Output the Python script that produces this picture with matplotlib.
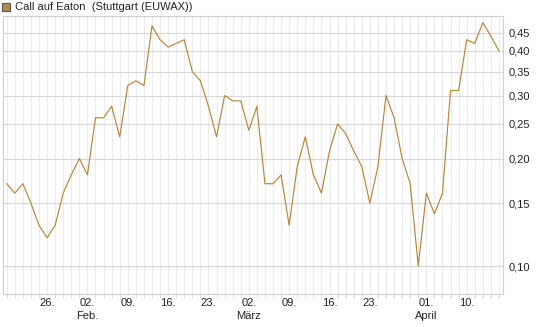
import matplotlib
matplotlib.use("Agg")
import matplotlib.pyplot as plt
from matplotlib.patches import Rectangle
from matplotlib.ticker import FixedLocator, NullLocator, FuncFormatter, MultipleLocator
import pandas as pd

plt.rcParams["font.family"] = ["Liberation Sans", "DejaVu Sans"]
plt.rcParams["font.size"] = 8

# trading days (Stuttgart), Good Friday / Easter Monday closed
dates = pd.bdate_range("2026-01-19", "2026-04-16")
dates = dates.drop(pd.to_datetime(["2026-04-03", "2026-04-06"]))

prices = [0.17, 0.16, 0.17, 0.15, 0.13, 0.12, 0.13, 0.16, 0.18, 0.20,
          0.18, 0.26, 0.26, 0.28, 0.23, 0.32, 0.33, 0.32, 0.47, 0.43,
          0.41, 0.42, 0.43, 0.35, 0.33, 0.28, 0.23, 0.30, 0.29, 0.29,
          0.24, 0.28, 0.17, 0.17, 0.18, 0.13, 0.19, 0.23, 0.18, 0.16,
          0.21, 0.25, 0.235, 0.21, 0.19, 0.15, 0.19, 0.30, 0.26, 0.20,
          0.17, 0.10, 0.16, 0.14, 0.16, 0.31, 0.31, 0.43, 0.42, 0.48,
          0.44, 0.40]

tick_days = ["2026-01-26", "2026-02-02", "2026-02-09", "2026-02-16", "2026-02-23",
             "2026-03-02", "2026-03-09", "2026-03-16", "2026-03-23", "2026-04-01",
             "2026-04-10"]
tick_labels = ["26.", "02.\nFeb.", "09.", "16.", "23.", "02.\nMärz", "09.", "16.",
               "23.", "01.\nApril", "10."]
y_ticks = [0.10, 0.15, 0.20, 0.25, 0.30, 0.35, 0.40, 0.45]

line_col = "#b8863b"
x = list(range(len(dates)))
tick_pos = [dates.get_loc(pd.Timestamp(d)) for d in tick_days]

fig = plt.figure(figsize=(5.45, 3.27), dpi=100)
ax = fig.add_axes([2.7 / 545, 1 - 293.5 / 327, (503 - 2.7) / 545, (293.5 - 16) / 327])

ax.plot(x, prices, color=line_col, lw=0.85, zorder=3)

ax.set_yscale("log")
ax.set_ylim(0.0838, 0.501)
ax.set_xlim(-0.5, len(dates) - 0.5)

ax.yaxis.set_major_locator(FixedLocator(y_ticks))
ax.yaxis.set_minor_locator(NullLocator())
ax.yaxis.set_major_formatter(FuncFormatter(lambda v, p: f"{v:.2f}".replace(".", ",")))
ax.yaxis.tick_right()
ax.tick_params(axis="y", length=0, pad=4, labelcolor="#222222", labelsize=8)

ax.set_xticks(tick_pos)
ax.set_xticklabels(tick_labels, linespacing=1.45)
ax.xaxis.set_minor_locator(MultipleLocator(1))
ax.tick_params(axis="x", which="major", length=0, pad=3, labelcolor="#222222", labelsize=8)
ax.tick_params(axis="x", which="minor", length=3, color="#dddddd", width=0.8)

# grid: every trading day vertical, price levels horizontal
for k in x:
    ax.axvline(k, color="#ececec", lw=0.8, zorder=1)
for v in y_ticks:
    ax.axhline(v, color="#d9d9d9", lw=0.9, zorder=2)

for s in ax.spines.values():
    s.set_color("#cfcfcf")
    s.set_linewidth(0.8)

# legend box top left
fig.patches.append(Rectangle((2 / 545, 1 - 11 / 327), 8 / 545, 8 / 327,
                             transform=fig.transFigure, facecolor="#b38a4f",
                             edgecolor="#555555", lw=0.8))
fig.text(15 / 545, 1 - 6.5 / 327, "Call auf Eaton  (Stuttgart (EUWAX))",
         ha="left", va="center", fontsize=8, color="#222222")

fig.savefig("out.png", dpi=100)
